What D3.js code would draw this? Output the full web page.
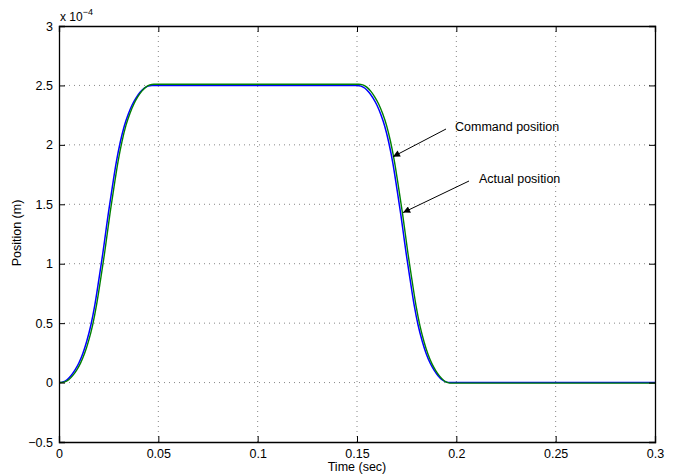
<!DOCTYPE html>
<html><head><meta charset="utf-8">
<script src="https://cdn.jsdelivr.net/npm/d3@7"></script>
<style>body{margin:0;background:#fff}svg{display:block;font-family:"Liberation Sans",Arial,sans-serif}</style>
</head><body><svg id="c" width="673" height="474"></svg>
<script>
// Data (position in units of 1e-4 m, time in s)
const xTicks = [0, 0.05, 0.1, 0.15, 0.2, 0.25, 0.3];
const yTicks = [-0.5, 0, 0.5, 1, 1.5, 2, 2.5, 3];
const cmdTime = [0,0.002,0.004,0.006,0.008,0.010,0.012,0.014,0.016,0.018,0.020,0.022,0.0234,0.0248,0.0268,0.0288,0.0308,0.0328,0.0348,0.0368,0.0388,0.0408,0.0428,0.0448,0.0468,
  0.1500,0.1520,0.1540,0.1560,0.1580,0.1600,0.1620,0.1640,0.1660,0.1680,0.1700,0.1720,0.1734,0.1748,0.1768,0.1788,0.1808,0.1828,0.1848,0.1868,0.1888,0.1908,0.1928,0.1948,0.1968,0.3];
const cmdPos  = [0,0.006,0.024,0.058,0.105,0.165,0.245,0.35,0.48,0.65,0.86,1.08,1.25,1.42,1.64,1.85,2.02,2.155,2.255,2.335,2.395,2.442,2.476,2.494,2.5,
  2.5,2.494,2.476,2.442,2.395,2.335,2.255,2.155,2.02,1.85,1.64,1.42,1.25,1.08,0.86,0.65,0.48,0.35,0.245,0.165,0.105,0.058,0.024,0.006,0,0];
const actTime = [0,0.0029,0.0049,0.0069,0.0089,0.0109,0.0129,0.0149,0.0169,0.0189,0.0209,0.0229,0.0243,0.0257,0.0277,0.0297,0.0317,0.0337,0.0357,0.0377,0.0397,0.0417,0.0437,0.0457,0.0477,
  0.1509,0.1529,0.1549,0.1569,0.1589,0.1609,0.1629,0.1649,0.1669,0.1689,0.1709,0.1729,0.1743,0.1757,0.1777,0.1797,0.1817,0.1837,0.1857,0.1877,0.1897,0.1917,0.1937,0.1957,0.1977,0.2,0.3];
const actPos  = [0,0.006,0.024,0.058,0.105,0.166,0.246,0.351,0.482,0.653,0.863,1.084,1.255,1.426,1.647,1.857,2.028,2.164,2.264,2.344,2.405,2.452,2.486,2.504,2.51,
  2.51,2.504,2.486,2.452,2.404,2.344,2.263,2.162,2.026,1.855,1.644,1.423,1.252,1.081,0.859,0.648,0.477,0.346,0.240,0.159,0.099,0.052,0.018,0.0,-0.005,-0.005,-0.005];
const annoText = ["Command position", "Actual position"];
const annoTarget = [[0.1681, 1.90], [0.1732, 1.43]];

const svg = d3.select("#c");
const L=59,R=655,T=26,B=442;
const x = d3.scaleLinear().domain([0,0.3]).range([L,R]);
const y = d3.scaleLinear().domain([-0.5,3]).range([B,T]);
const FONT = "Liberation Sans, Arial, sans-serif";

// grid
const g = svg.append("g");
xTicks.slice(1,-1).forEach(v=>g.append("line").attr("x1",x(v)).attr("x2",x(v)).attr("y1",T).attr("y2",B)
  .attr("stroke","#888").attr("stroke-width",1).attr("stroke-dasharray","1,4"));
yTicks.slice(1,-1).forEach(v=>g.append("line").attr("x1",L).attr("x2",R).attr("y1",y(v)).attr("y2",y(v))
  .attr("stroke","#888").attr("stroke-width",1).attr("stroke-dasharray","1,4"));

// lines
const line = d3.line().x(d=>x(d[0])).y(d=>y(d[1])).curve(d3.curveMonotoneX);
svg.append("path").datum(cmdTime.map((t,i)=>[t,cmdPos[i]])).attr("d",line)
  .attr("fill","none").attr("stroke","#0000ff").attr("stroke-width",1.5);
svg.append("path").datum(actTime.map((t,i)=>[t,actPos[i]])).attr("d",line)
  .attr("fill","none").attr("stroke","#008000").attr("stroke-width",1.4);

// axes
const fmt = v => v<0 ? "\u2212"+Math.abs(v) : String(v);
const axB = svg.append("g").attr("transform",`translate(0,${B})`).call(d3.axisBottom(x).tickValues(xTicks).tickSize(-6).tickPadding(8).tickFormat(fmt));
const axL = svg.append("g").attr("transform",`translate(${L},0)`).call(d3.axisLeft(y).tickValues(yTicks).tickSize(-6).tickPadding(6).tickFormat(fmt));
const axT = svg.append("g").attr("transform",`translate(0,${T})`).call(d3.axisTop(x).tickValues(xTicks).tickSize(-6).tickFormat(""));
const axR = svg.append("g").attr("transform",`translate(${R},0)`).call(d3.axisRight(y).tickValues(yTicks).tickSize(-6).tickFormat(""));
[axB,axL,axT,axR].forEach(a=>{a.select(".domain").attr("stroke","#000").attr("stroke-width",1.3);
  a.selectAll(".tick line").attr("stroke","#000");
  a.selectAll("text").attr("font-size",12.5).attr("fill","#000").attr("font-family",FONT);});
axB.selectAll("text").attr("dy","0.6em");

// exponent
const ex = svg.append("text").attr("x",60).attr("y",21).attr("font-size",12).attr("fill","#000");
ex.append("tspan").text("x 10");
ex.append("tspan").attr("dy",-6).attr("font-size",9).text("\u22124");

// axis labels
svg.append("text").attr("x",357).attr("y",471).attr("text-anchor","middle").attr("font-size",12.5).text("Time (sec)");
svg.append("text").attr("transform","translate(21,233) rotate(-90)").attr("text-anchor","middle").attr("font-size",12.5).text("Position (m)");

// annotations with arrows
svg.append("defs").append("marker").attr("id","ah").attr("viewBox","0 0 10 10").attr("refX",10).attr("refY",5)
  .attr("markerWidth",11).attr("markerHeight",7).attr("markerUnits","userSpaceOnUse").attr("orient","auto")
  .append("path").attr("d","M0,0L10,5L0,10z").attr("fill","#000");
const textPos = [[455,131],[479,183]];
const tailPos = [[446,129],[469,181]];
annoText.forEach((txt,i)=>{
  svg.append("line").attr("x1",tailPos[i][0]).attr("y1",tailPos[i][1])
    .attr("x2",x(annoTarget[i][0])).attr("y2",y(annoTarget[i][1]))
    .attr("stroke","#000").attr("stroke-width",1).attr("marker-end","url(#ah)");
  svg.append("text").attr("x",textPos[i][0]).attr("y",textPos[i][1]).attr("font-size",12.5).attr("fill","#000").text(txt);
});
</script></body></html>
